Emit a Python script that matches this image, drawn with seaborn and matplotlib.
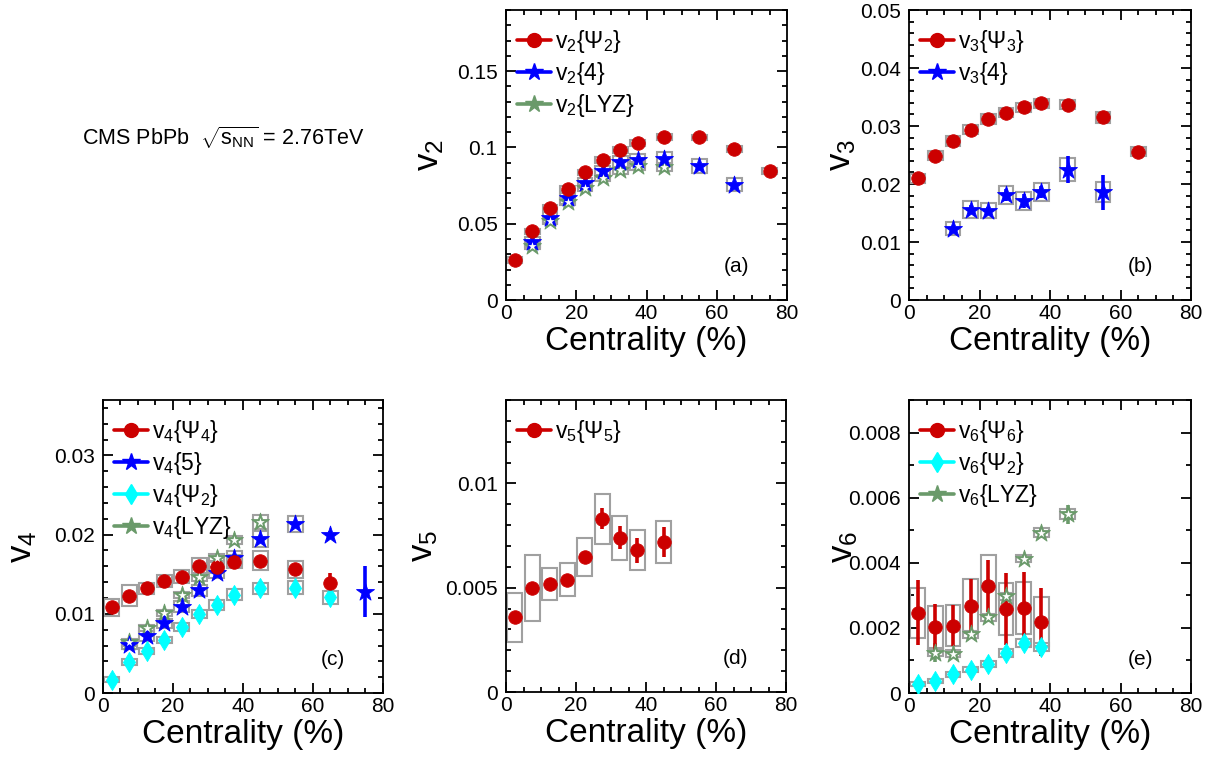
import matplotlib
matplotlib.use("Agg")
import matplotlib.pyplot as plt
from matplotlib.patches import Rectangle
from matplotlib.lines import Line2D
from matplotlib.ticker import MultipleLocator, FuncFormatter
import seaborn as sns

# ---------------- data: centrality bin centres (%) and flow harmonics ----------------
# (a) elliptic flow
v2_ep_x = [2.5, 7.5, 12.5, 17.5, 22.5, 27.5, 32.5, 37.5, 45, 55, 65, 75]
v2_ep = [0.0262, 0.0450, 0.0605, 0.0730, 0.0837, 0.0918, 0.0982, 0.1030, 0.1068, 0.1066, 0.0989, 0.0845]
v2_ep_err = [0.0004, 0.0004, 0.0004, 0.0004, 0.0004, 0.0004, 0.0004, 0.0004, 0.0004, 0.0004, 0.0005, 0.0006]
v2_ep_sys = [0.0018, 0.0018, 0.0018, 0.0018, 0.0018, 0.0018, 0.0018, 0.0018, 0.0018, 0.0018, 0.0018, 0.0018]

v2_c4_x = [7.5, 12.5, 17.5, 22.5, 27.5, 32.5, 37.5, 45, 55, 65]
v2_c4 = [0.0380, 0.0540, 0.0667, 0.0766, 0.0843, 0.0905, 0.0916, 0.0927, 0.0879, 0.0755]
v2_c4_err = [0.0005, 0.0004, 0.0004, 0.0004, 0.0004, 0.0004, 0.0004, 0.0004, 0.0005, 0.0006]
v2_c4_sys = [0.0035, 0.0035, 0.0035, 0.0035, 0.0035, 0.0038, 0.0040, 0.0042, 0.0045, 0.0042]

v2_lyz_x = [7.5, 12.5, 17.5, 22.5, 27.5, 32.5, 37.5, 45]
v2_lyz = [0.0353, 0.0519, 0.0640, 0.0733, 0.0800, 0.0850, 0.0879, 0.0872]
v2_lyz_err = [0.0004, 0.0004, 0.0004, 0.0004, 0.0004, 0.0004, 0.0004, 0.0004]
v2_lyz_sys = [0.0020, 0.0020, 0.0020, 0.0020, 0.0020, 0.0022, 0.0024, 0.0025]

# (b) triangular flow
v3_ep_x = [2.5, 7.5, 12.5, 17.5, 22.5, 27.5, 32.5, 37.5, 45, 55, 65]
v3_ep = [0.0210, 0.0249, 0.0274, 0.0294, 0.0312, 0.0323, 0.0332, 0.0339, 0.0337, 0.0315, 0.0256]
v3_ep_err = [0.0002, 0.0002, 0.0002, 0.0002, 0.0002, 0.0002, 0.0002, 0.0002, 0.0002, 0.0003, 0.0004]
v3_ep_sys = [0.0008, 0.0008, 0.0008, 0.0008, 0.0008, 0.0008, 0.0008, 0.0008, 0.0008, 0.0009, 0.0008]

v3_c4_x = [12.5, 17.5, 22.5, 27.5, 32.5, 37.5, 45, 55]
v3_c4 = [0.0123, 0.0156, 0.0154, 0.0181, 0.0171, 0.0186, 0.0225, 0.0186]
v3_c4_err = [0.0005, 0.0007, 0.0007, 0.0010, 0.0012, 0.0010, 0.0024, 0.0030]
v3_c4_sys = [0.0011, 0.0014, 0.0013, 0.0015, 0.0015, 0.0016, 0.0020, 0.0017]

# (c) quadrangular flow
v4_ep_x = [2.5, 7.5, 12.5, 17.5, 22.5, 27.5, 32.5, 37.5, 45, 55, 65]
v4_ep = [0.0108, 0.0123, 0.0132, 0.0142, 0.0147, 0.0161, 0.0159, 0.0166, 0.0167, 0.0156, 0.0139]
v4_ep_err = [0.0001, 0.0001, 0.0001, 0.0001, 0.0001, 0.0002, 0.0002, 0.0002, 0.0002, 0.0003, 0.0013]
v4_ep_sys = [0.0011, 0.0013, 0.00075, 0.00075, 0.0008, 0.0009, 0.0008, 0.0008, 0.0012, 0.0011, 0.0]

v4_c5_x = [7.5, 12.5, 17.5, 22.5, 27.5, 32.5, 37.5, 45, 55, 65, 75]
v4_c5 = [0.0061, 0.0072, 0.0088, 0.0109, 0.0130, 0.0152, 0.0171, 0.0194, 0.0213, 0.0200, 0.0128]
v4_c5_err = [0.0002, 0.0002, 0.0002, 0.0002, 0.0002, 0.0003, 0.0003, 0.0004, 0.0004, 0.0004, 0.0032]
v4_c5_sys = [0.0005, 0.0006, 0.0006, 0.0007, 0.0007, 0.0007, 0.0008, 0.0010, 0.0010, 0.0, 0.0]

v4_ep2_x = [2.5, 7.5, 12.5, 17.5, 22.5, 27.5, 32.5, 37.5, 45, 55, 65]
v4_ep2 = [0.0017, 0.0039, 0.0053, 0.0067, 0.0083, 0.0100, 0.0111, 0.0124, 0.0132, 0.0133, 0.0121]
v4_ep2_err = [0.0002, 0.0002, 0.0002, 0.0002, 0.0002, 0.0002, 0.0002, 0.0003, 0.0003, 0.0004, 0.0004]
v4_ep2_sys = [0.0003, 0.0004, 0.0004, 0.0004, 0.0005, 0.0005, 0.0006, 0.0007, 0.0007, 0.0008, 0.0008]

v4_lyz_x = [7.5, 12.5, 17.5, 22.5, 27.5, 32.5, 37.5, 45]
v4_lyz = [0.0064, 0.0082, 0.0101, 0.0124, 0.0147, 0.0170, 0.0193, 0.0216]
v4_lyz_err = [0.0003, 0.0003, 0.0003, 0.0003, 0.0003, 0.0003, 0.0003, 0.0004]
v4_lyz_sys = [0.0004, 0.0004, 0.0004, 0.0004, 0.0005, 0.0005, 0.0005, 0.0009]

# (d) pentagonal flow
v5_ep_x = [2.5, 7.5, 12.5, 17.5, 22.5, 27.5, 32.5, 37.5, 45]
v5_ep = [0.00358, 0.00498, 0.00518, 0.00538, 0.00647, 0.00830, 0.00740, 0.00680, 0.00719]
v5_ep_err = [0.00012, 0.00018, 0.00020, 0.00025, 0.00030, 0.00050, 0.00056, 0.00060, 0.00070]
v5_ep_sys = [0.00117, 0.00158, 0.00075, 0.00080, 0.00092, 0.00118, 0.00106, 0.00097, 0.00102]

# (e) hexagonal flow
v6_ep_x = [2.5, 7.5, 12.5, 17.5, 22.5, 27.5, 32.5, 37.5]
v6_ep = [0.00246, 0.00203, 0.00207, 0.00267, 0.00330, 0.00258, 0.00261, 0.00219]
v6_ep_err = [0.00100, 0.00070, 0.00062, 0.00082, 0.00080, 0.00110, 0.00112, 0.00104]
v6_ep_sys = [0.00078, 0.00064, 0.00064, 0.00083, 0.00094, 0.00080, 0.00080, 0.00075]

v6_ep2_x = [2.5, 7.5, 12.5, 17.5, 22.5, 27.5, 32.5, 37.5]
v6_ep2 = [0.00028, 0.00036, 0.00057, 0.00072, 0.00090, 0.00123, 0.00153, 0.00142]
v6_ep2_err = [0.00004, 0.00004, 0.00005, 0.00005, 0.00006, 0.00007, 0.00008, 0.00009]
v6_ep2_sys = [0.00005, 0.00006, 0.00007, 0.00008, 0.00009, 0.00011, 0.00012, 0.00012]

v6_lyz_x = [7.5, 12.5, 17.5, 22.5, 27.5, 32.5, 37.5, 45]
v6_lyz = [0.00124, 0.00121, 0.00180, 0.00232, 0.00297, 0.00413, 0.00492, 0.00549]
v6_lyz_err = [0.00030, 0.00010, 0.00010, 0.00010, 0.00015, 0.00012, 0.00015, 0.00030]
v6_lyz_sys = [0.00010, 0.00010, 0.00010, 0.00010, 0.00010, 0.00012, 0.00014, 0.00016]

x_major = [0, 20, 40, 60, 80]

# ---------------- style ----------------
sns.set_theme(style="ticks")
plt.rcParams["font.family"] = ["Liberation Sans", "DejaVu Sans"]
plt.rcParams["mathtext.fontset"] = "custom"
plt.rcParams["mathtext.rm"] = "Liberation Sans"
plt.rcParams["mathtext.it"] = "Liberation Sans:italic"
plt.rcParams["mathtext.bf"] = "Liberation Sans:bold"
for key in ("text.color", "axes.labelcolor", "xtick.color", "ytick.color",
            "axes.edgecolor"):
    plt.rcParams[key] = "black"

RED = "#cc0000"
BLUE = "#0000ff"
CYAN = "#00ffff"
GREEN = "#6a9a6a"
BOX = "#a0a0a0"
BOX_HW = 2.1

MARK = {
    "circle": dict(marker="o", s=95, legend_ms=10),
    "star": dict(marker="*", s=185, legend_ms=13),
    "diamond": dict(marker="d", s=105, legend_ms=10.5),
}


def draw_series(ax, x, y, err, sys_, color, kind, hollow=False):
    for xi, yi, si in zip(x, y, sys_):
        if si > 0:
            ax.add_patch(Rectangle((xi - BOX_HW, yi - si), 2 * BOX_HW, 2 * si,
                                   fill=False, ec=BOX, lw=1.5, zorder=2))
    ax.errorbar(x, y, yerr=err, fmt="none", ecolor=color, elinewidth=2.6,
                capsize=0, zorder=3)
    m = MARK[kind]
    sns.scatterplot(x=x, y=y, ax=ax, color=color, marker=m["marker"], s=m["s"],
                    edgecolor=color, linewidth=0.6, zorder=4, legend=False)
    if hollow:
        sns.scatterplot(x=x, y=y, ax=ax, color="white", marker=m["marker"],
                        s=m["s"] * 0.22, edgecolor="white", linewidth=0,
                        zorder=5, legend=False)


def handle(color, kind):
    m = MARK[kind]
    return Line2D([0], [0], color=color, lw=2.6, marker=m["marker"],
                  markersize=m["legend_ms"], markerfacecolor=color,
                  markeredgecolor=color)


def style_axes(ax, ymax, ymajor, yminor, ylabel, label_x, tag):
    ax.set_xlim(0, 80)
    ax.set_ylim(0, ymax)
    ax.set_xticks(x_major)
    ax.xaxis.set_minor_locator(MultipleLocator(5))
    ax.yaxis.set_major_locator(MultipleLocator(ymajor))
    ax.yaxis.set_minor_locator(MultipleLocator(yminor))
    ax.yaxis.set_major_formatter(FuncFormatter(lambda v, p: f"{v:g}"))
    ax.xaxis.set_major_formatter(FuncFormatter(lambda v, p: f"{v:g}"))
    ax.tick_params(which="both", direction="in", top=True, right=True,
                   labelsize=15, width=1.3, colors="black")
    ax.tick_params(which="major", length=7)
    ax.tick_params(which="minor", length=3.5)
    ax.tick_params(axis="x", pad=3)
    ax.tick_params(axis="y", pad=6)
    for sp in ax.spines.values():
        sp.set_linewidth(1.3)
        sp.set_color("black")
    ax.set_xlabel("Centrality (%)", fontsize=24, labelpad=2, color="black")
    ax.set_ylabel(ylabel, fontsize=25, color="black")
    ax.yaxis.set_label_coords(label_x, 0.5)
    ax.text(0.82, 0.115, tag, transform=ax.transAxes, fontsize=15,
            ha="center", va="center", color="black")
    ax.set_facecolor("white")


def add_legend(ax, handles, labels):
    ax.legend(handles, labels, loc="upper left", bbox_to_anchor=(-0.01, 0.985),
              frameon=False, fontsize=16.5, handlelength=1.5,
              handletextpad=0.15, labelspacing=0.22, borderaxespad=0.2,
              labelcolor="black")


fig = plt.figure(figsize=(12.13, 7.65), dpi=100)
fig.patch.set_facecolor("white")

ax_a = fig.add_axes([0.4172, 0.6078, 0.2317, 0.3791])
ax_b = fig.add_axes([0.7494, 0.6078, 0.2325, 0.3791])
ax_c = fig.add_axes([0.0849, 0.0941, 0.2308, 0.3830])
ax_d = fig.add_axes([0.4172, 0.0954, 0.2308, 0.3817])
ax_e = fig.add_axes([0.7494, 0.0941, 0.2325, 0.3830])

# (a)
draw_series(ax_a, v2_lyz_x, v2_lyz, v2_lyz_err, v2_lyz_sys, GREEN, "star", hollow=True)
draw_series(ax_a, v2_c4_x, v2_c4, v2_c4_err, v2_c4_sys, BLUE, "star")
draw_series(ax_a, v2_ep_x, v2_ep, v2_ep_err, v2_ep_sys, RED, "circle")
style_axes(ax_a, 0.19, 0.05, 0.01, "v$_2$", -0.215, "(a)")
add_legend(ax_a, [handle(RED, "circle"), handle(BLUE, "star"), handle(GREEN, "star")],
           ["v$_2${Ψ$_2$}", "v$_2${4}", "v$_2${LYZ}"])

# (b)
draw_series(ax_b, v3_c4_x, v3_c4, v3_c4_err, v3_c4_sys, BLUE, "star")
draw_series(ax_b, v3_ep_x, v3_ep, v3_ep_err, v3_ep_sys, RED, "circle")
style_axes(ax_b, 0.05, 0.01, 0.002, "v$_3$", -0.18, "(b)")
add_legend(ax_b, [handle(RED, "circle"), handle(BLUE, "star")],
           ["v$_3${Ψ$_3$}", "v$_3${4}"])

# (c)
draw_series(ax_c, v4_ep2_x, v4_ep2, v4_ep2_err, v4_ep2_sys, CYAN, "diamond")
draw_series(ax_c, v4_lyz_x, v4_lyz, v4_lyz_err, v4_lyz_sys, GREEN, "star", hollow=True)
draw_series(ax_c, v4_c5_x, v4_c5, v4_c5_err, v4_c5_sys, BLUE, "star")
draw_series(ax_c, v4_ep_x, v4_ep, v4_ep_err, v4_ep_sys, RED, "circle")
style_axes(ax_c, 0.037, 0.01, 0.002, "v$_4$", -0.23, "(c)")
add_legend(ax_c, [handle(RED, "circle"), handle(BLUE, "star"),
                  handle(CYAN, "diamond"), handle(GREEN, "star")],
           ["v$_4${Ψ$_4$}", "v$_4${5}", "v$_4${Ψ$_2$}", "v$_4${LYZ}"])

# (d)
draw_series(ax_d, v5_ep_x, v5_ep, v5_ep_err, v5_ep_sys, RED, "circle")
style_axes(ax_d, 0.014, 0.005, 0.001, "v$_5$", -0.235, "(d)")
add_legend(ax_d, [handle(RED, "circle")], ["v$_5${Ψ$_5$}"])

# (e)
draw_series(ax_e, v6_ep2_x, v6_ep2, v6_ep2_err, v6_ep2_sys, CYAN, "diamond")
draw_series(ax_e, v6_lyz_x, v6_lyz, v6_lyz_err, v6_lyz_sys, GREEN, "star", hollow=True)
draw_series(ax_e, v6_ep_x, v6_ep, v6_ep_err, v6_ep_sys, RED, "circle")
style_axes(ax_e, 0.009, 0.002, 0.001, "v$_6$", -0.175, "(e)")
add_legend(ax_e, [handle(RED, "circle"), handle(CYAN, "diamond"), handle(GREEN, "star")],
           ["v$_6${Ψ$_6$}", "v$_6${Ψ$_2$}", "v$_6${LYZ}"])

fig.text(0.068, 0.82, r"CMS PbPb  $\sqrt{\mathrm{s}_{\mathrm{NN}}}$ = 2.76TeV",
         fontsize=15.5, ha="left", va="center", color="black")

fig.savefig("out.png", dpi=100, facecolor="white")
